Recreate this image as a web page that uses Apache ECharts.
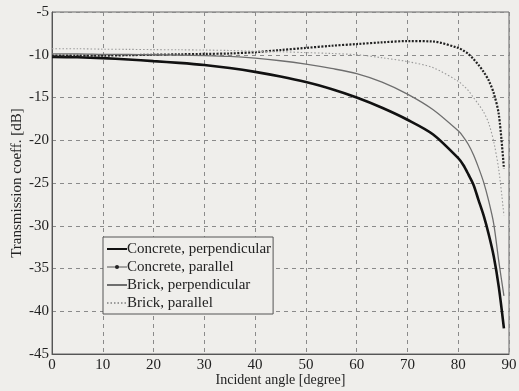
<!DOCTYPE html>
<html>
<head>
<meta charset="utf-8">
<script src="https://cdn.jsdelivr.net/npm/echarts@6/dist/echarts.min.js"></script>
<style>
  html, body { margin: 0; padding: 0; background: #efeeeb; }
  #chart { width: 519px; height: 391px; }
</style>
</head>
<body>
<div id="chart"></div>
<script>
// Incident angles [degree] shared by all curves
const angles = [0, 5, 10, 15, 20, 25, 30, 35, 40, 45, 50, 55, 60, 65, 70, 75, 80, 81, 82, 83, 84, 85, 86, 87, 88, 89];

// Transmission coefficients [dB]
const concretePerp = [-10.25, -10.3, -10.4, -10.55, -10.75, -10.95, -11.2, -11.55, -12.0, -12.55, -13.2, -14.0, -15.0, -16.2, -17.6, -19.3, -22.1, -22.9, -24.0, -25.2, -27.0, -28.8, -31.0, -33.6, -37.2, -42.0];
const concretePar  = [-10.1, -10.1, -10.1, -10.05, -10.0, -9.95, -9.9, -9.85, -9.7, -9.45, -9.2, -8.95, -8.75, -8.55, -8.4, -8.45, -9.2, -9.5, -9.9, -10.5, -11.2, -12.0, -13.0, -14.5, -17.0, -23.3];
const brickPerp    = [-9.9, -9.9, -9.95, -9.97, -10.0, -10.05, -10.1, -10.2, -10.4, -10.7, -11.1, -11.6, -12.2, -13.2, -14.6, -16.4, -18.9, -19.6, -20.5, -21.7, -23.2, -24.9, -27.1, -29.8, -34.2, -38.2];
const brickPar     = [-9.3, -9.3, -9.35, -9.37, -9.4, -9.42, -9.45, -9.5, -9.6, -9.65, -9.75, -9.85, -10.0, -10.35, -10.8, -11.5, -13.1, -13.6, -14.2, -15.0, -15.8, -16.7, -18.0, -20.2, -23.5, -28.8];

const seriesNames = ['Concrete, perpendicular', 'Concrete, parallel', 'Brick, perpendicular', 'Brick, parallel'];

const xTicks = [0, 10, 20, 30, 40, 50, 60, 70, 80, 90];
const yTicks = [-45, -40, -35, -30, -25, -20, -15, -10, -5];

const pairs = vals => angles.map((a, i) => [a, vals[i]]);
const serif = '"Liberation Serif", "DejaVu Serif", serif';

const chart = echarts.init(document.getElementById('chart'));
chart.setOption({
  backgroundColor: '#efeeeb',
  animation: false,
  grid: {
    left: 52, right: 10, top: 12, bottom: 37,
    containLabel: false, outerBoundsMode: 'none',
    show: true, borderColor: '#666', borderWidth: 1, backgroundColor: 'transparent'
  },
  legend: {
    orient: 'vertical',
    left: 103, top: 237,
    padding: [4, 2, 3, 3],
    itemGap: 2,
    itemWidth: 20, itemHeight: 5,
    borderColor: '#555', borderWidth: 1,
    backgroundColor: '#efeeeb',
    itemStyle: { opacity: 0 },
    textStyle: { fontFamily: serif, fontSize: 15, color: '#222', padding: [0, 0, 0, -5], lineHeight: 16 },
    data: [
      { name: seriesNames[0] },
      { name: seriesNames[1], itemStyle: { opacity: 1, color: '#222' }, lineStyle: { type: 'solid', width: 1, color: '#555' } },
      { name: seriesNames[2] },
      { name: seriesNames[3] }
    ]
  },
  xAxis: {
    type: 'value',
    min: xTicks[0], max: xTicks[xTicks.length - 1], interval: 10,
    name: 'Incident angle [degree]',
    nameLocation: 'middle', nameGap: 19, nameMoveOverlap: false,
    nameTextStyle: { fontFamily: serif, fontSize: 14, color: '#222' },
    axisLine: { show: true, lineStyle: { color: '#555' } },
    axisTick: { show: false },
    axisLabel: { fontFamily: serif, fontSize: 15, color: '#222', margin: 4 },
    splitLine: { show: true, lineStyle: { color: '#8a8a8a', type: [4, 4], width: 1 } }
  },
  yAxis: {
    type: 'value',
    min: yTicks[0], max: yTicks[yTicks.length - 1], interval: 5,
    name: 'Transmission coeff. [dB]',
    nameLocation: 'middle', nameGap: 27, nameMoveOverlap: false,
    nameTextStyle: { fontFamily: serif, fontSize: 15, color: '#222' },
    axisLine: { show: true, lineStyle: { color: '#555' } },
    axisTick: { show: false },
    axisLabel: { fontFamily: serif, fontSize: 15, color: '#222', margin: 3 },
    splitLine: { show: true, lineStyle: { color: '#8a8a8a', type: [4, 4], width: 1 } }
  },
  series: [
    {
      name: seriesNames[0], type: 'line', data: pairs(concretePerp),
      smooth: 0.3, showSymbol: false, symbol: 'none',
      lineStyle: { color: '#111', width: 2.6 }, itemStyle: { color: '#111' }
    },
    {
      name: seriesNames[1], type: 'line', data: pairs(concretePar),
      smooth: 0.3, showSymbol: false, symbol: 'none',
      lineStyle: { color: '#222', width: 2.2, type: [2, 1.5] }, itemStyle: { color: '#222' }
    },
    {
      name: seriesNames[2], type: 'line', data: pairs(brickPerp),
      smooth: 0.3, showSymbol: false, symbol: 'none',
      lineStyle: { color: '#6e6e6e', width: 1.3 }, itemStyle: { color: '#6e6e6e' }
    },
    {
      name: seriesNames[3], type: 'line', data: pairs(brickPar),
      smooth: 0.3, showSymbol: false, symbol: 'none',
      lineStyle: { color: '#9a9a9a', width: 1.1, type: [1.5, 2] }, itemStyle: { color: '#9a9a9a' }
    }
  ]
});
</script>
</body>
</html>
